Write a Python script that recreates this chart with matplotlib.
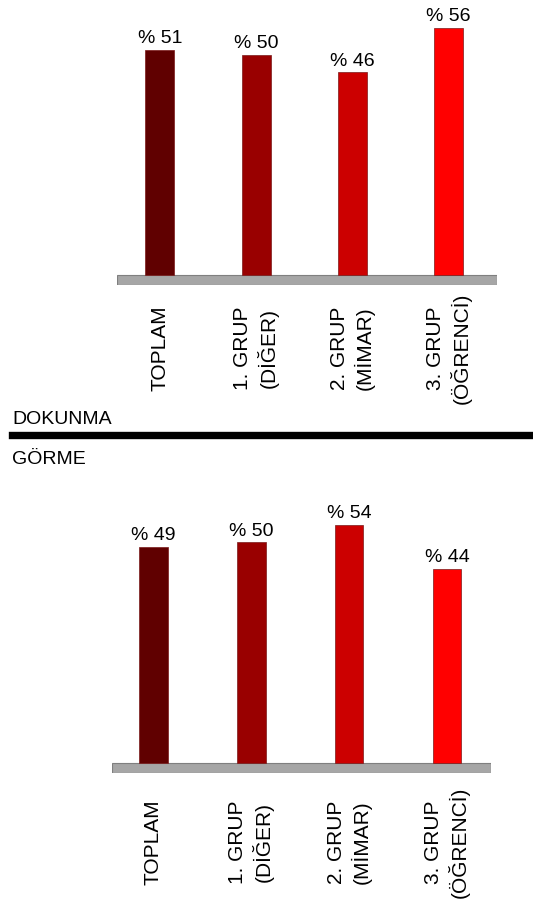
#! /usr/bin/env python

# two bar panels (DOKUNMA / GÖRME) split by a thick black line
import numpy as np
import matplotlib
matplotlib.use("Agg")
import matplotlib.pyplot as plt
from matplotlib.lines import Line2D

plt.rcParams['font.family'] = ['Liberation Sans', 'DejaVu Sans']

# data
groups = ['TOPLAM', '1. GRUP\n(DİĞER)', '2. GRUP\n(MİMAR)', '3. GRUP\n(ÖĞRENCİ)']
dokunma = [51, 50, 46, 56]
gorme = [49, 50, 54, 44]
section_top = 'DOKUNMA'
section_bottom = 'GÖRME'

colors = ['#600000', '#990000', '#cc0000', '#ff0000']

W, H = 533, 901
pxu = 4.41  # pixels per percent


def make_axes(fig, left, top, right, bottom):
    # pixel box (image coords) -> figure fraction
    return fig.add_axes([left / W, 1 - bottom / H, (right - left) / W, (bottom - top) / H])


def draw_panel(ax, vals, xlim, top_px, base_px, label_px, width):
    x = np.arange(len(vals))
    ax.bar(x, vals, width=width, color=colors, edgecolor='#7a1a1a', linewidth=0.5, zorder=3)
    # grey floor under the bars
    ax.axhspan(-10 / pxu, 0, color='#a6a6a6', ec='#7f7f7f', lw=0.8, zorder=2)
    for xi, v in zip(x, vals):
        ax.text(xi, v + 1.5, '% ' + str(v), ha='center', va='baseline', fontsize=14)
    ly = (base_px - label_px) / pxu
    for xi, g in zip(x, groups):
        ax.text(xi, ly, g, rotation=90, ha='center', va='center', multialignment='center',
                fontsize=15, linespacing=1.25, clip_on=False)
    ax.set_xlim(xlim)
    ax.set_ylim(-10 / pxu, (base_px - top_px) / pxu)
    ax.axis('off')


fig = plt.figure(figsize=(W / 100, H / 100), dpi=100)

ax1 = make_axes(fig, 116.7, 0, 496.7, 285)
draw_panel(ax1, dokunma, (-0.448, 3.498), 0, 275, 348, 0.30)

ax2 = make_axes(fig, 111.7, 480, 490.7, 772.7)
draw_panel(ax2, gorme, (-0.425, 3.446), 480, 762.7, 842, 0.293)

# divider and section names
fig.text(12 / W, 1 - 424 / H, section_top, fontsize=14, va='baseline', ha='left')
fig.text(12 / W, 1 - 464.5 / H, section_bottom, fontsize=14, va='baseline', ha='left')
fig.add_artist(Line2D([12 / W, 1], [1 - 435.3 / H, 1 - 435.3 / H], color='black', lw=5.3))

fig.savefig('out.png', dpi=100)
